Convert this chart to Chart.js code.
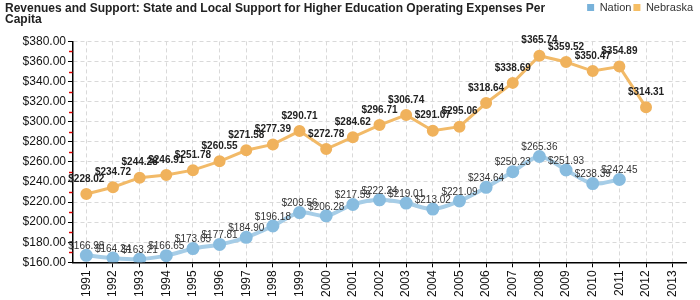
<!DOCTYPE html>
<html>
<head>
<meta charset="utf-8">
<script src="https://cdn.jsdelivr.net/npm/chart.js@4"></script>
<style>
  html, body { margin: 0; padding: 0; background: #fff; }
  #wrap { width: 700px; height: 300px; }
</style>
</head>
<body>
<div id="wrap"><canvas id="myChart" width="700" height="300"></canvas></div>
<script>
// chart data
var years = ['1991','1992','1993','1994','1995','1996','1997','1998','1999','2000','2001','2002',
             '2003','2004','2005','2006','2007','2008','2009','2010','2011','2012','2013'];
var nation = [166.98,164.24,163.21,166.65,173.65,177.81,184.90,196.18,209.56,206.28,217.59,222.24,
              219.01,213.02,221.09,234.64,250.23,265.36,251.93,238.39,242.45,null,null];
var nebraska = [228.02,234.72,244.28,246.91,251.78,260.55,271.58,277.39,290.71,272.78,284.62,296.71,
                306.74,291.07,295.06,318.64,338.69,365.74,359.52,350.47,354.89,314.31,null];
var yTicks = [160,180,200,220,240,260,280,300,320,340,360,380];
var titleLines = ['Revenues and Support: State and Local Support for Higher Education Operating Expenses Per', 'Capita'];

var FONT = '"Liberation Sans", Arial, sans-serif';

function money(v) { return '$' + v.toFixed(2); }

// title in the top left corner, legend stays on the right
var titlePlugin = {
  id: 'leftTitle',
  afterDraw: function(chart) {
    var ctx = chart.ctx;
    ctx.save();
    ctx.font = 'bold 12px ' + FONT;
    ctx.fillStyle = '#222';
    ctx.textBaseline = 'alphabetic';
    ctx.textAlign = 'left';
    ctx.fillText(titleLines[0], 5, 12);
    ctx.fillText(titleLines[1], 5, 23);
    ctx.restore();
  }
};

// red minor ticks on the y axis
var minorTicks = {
  id: 'minorTicks',
  afterDraw: function(chart) {
    var y = chart.scales.y, ctx = chart.ctx, left = chart.chartArea.left;
    ctx.save();
    ctx.lineWidth = 1.5;
    ctx.strokeStyle = '#e00000';
    for (var i = 0; i < yTicks.length - 1; i++) {
      var py = Math.round(y.getPixelForValue(yTicks[i] + 10)) + 0.5;
      ctx.beginPath();
      ctx.moveTo(left - 4, py);
      ctx.lineTo(left - 0.5, py);
      ctx.stroke();
    }
    ctx.restore();
  }
};

// value labels above the points
var valueLabels = {
  id: 'valueLabels',
  afterDatasetsDraw: function(chart) {
    var ctx = chart.ctx;
    ctx.save();
    ctx.textAlign = 'center';
    ctx.textBaseline = 'bottom';
    chart.data.datasets.forEach(function(ds, di) {
      var meta = chart.getDatasetMeta(di);
      var bold = di == 1;
      ctx.font = (bold ? 'bold ' : '') + '10px ' + FONT;
      ctx.fillStyle = bold ? '#222' : '#333';
      meta.data.forEach(function(pt, i) {
        if (ds.data[i] == null) return;
        ctx.fillText(money(ds.data[i]), pt.x, pt.y - (bold ? 10 : 4));
      });
    });
    ctx.restore();
  }
};

var ctx = document.getElementById('myChart').getContext('2d');
var chart = new Chart(ctx, {
  type: 'line',
  data: {
    labels: years,
    datasets: [{
      label: 'Nation',
      data: nation,
      borderColor: 'rgb(166,205,231)',
      backgroundColor: 'rgb(120,178,218)',
      pointBackgroundColor: 'rgb(136,188,223)',
      pointBorderColor: 'rgb(136,188,223)',
      borderWidth: 4,
      pointRadius: 4.5,
      tension: 0.3,
      spanGaps: false
    }, {
      label: 'Nebraska',
      data: nebraska,
      borderColor: 'rgb(242,186,104)',
      backgroundColor: 'rgb(246,190,100)',
      pointBackgroundColor: 'rgb(240,178,92)',
      pointBorderColor: 'rgb(240,178,92)',
      borderWidth: 3,
      pointRadius: 4.5,
      tension: 0
    }]
  },
  options: {
    responsive: false,
    animation: false,
    layout: { padding: { top: 0, right: 5, left: 0, bottom: 0 } },
    plugins: {
      legend: {
        position: 'top',
        align: 'end',
        weight: 1000,
        labels: {
          boxWidth: 7, boxHeight: 7, padding: 2, color: '#333',
          font: { size: 11, family: FONT },
          generateLabels: function(c) {
            var items = Chart.defaults.plugins.legend.labels.generateLabels(c);
            items.forEach(function(it) { it.lineWidth = 0; it.strokeStyle = 'rgba(0,0,0,0)'; });
            return items;
          }
        }
      },
      // empty title only keeps room under the legend for the drawn title
      title: {
        display: true, text: ' ', position: 'top', weight: 500,
        color: 'rgba(0,0,0,0)', font: { size: 12 }, padding: { top: 0, bottom: 4 }
      },
      tooltip: { enabled: false }
    },
    scales: {
      x: {
        offset: true,
        grid: { offset: false, color: '#d9d9d9', tickColor: '#000', tickLength: 5 },
        border: { color: '#000', width: 1.5, dash: [4, 3] },
        ticks: {
          minRotation: 90, maxRotation: 90, color: '#111', autoSkip: false,
          font: { size: 12, family: FONT }
        }
      },
      y: {
        min: 160, max: 380,
        afterFit: function(s) { s.width = 73; },
        grid: { color: '#d9d9d9', tickColor: '#000', tickLength: 5 },
        border: { color: '#000', width: 1.5, dash: [4, 3] },
        ticks: {
          stepSize: 20, color: '#111', padding: 2,
          font: { size: 12, family: FONT },
          callback: function(v) { return money(v); }
        }
      },
      // blank axis on the right, only to leave the gap after 2013
      y2: {
        position: 'right',
        afterFit: function(s) { s.width = 9; },
        grid: { display: false },
        border: { display: false },
        ticks: { display: false }
      }
    }
  },
  plugins: [titlePlugin, minorTicks, valueLabels]
});
</script>
</body>
</html>
